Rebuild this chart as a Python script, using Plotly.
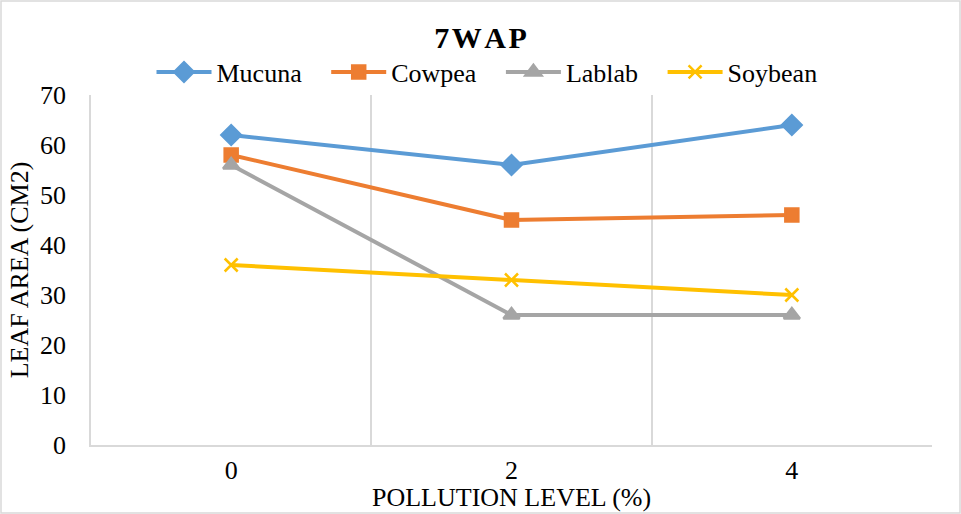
import plotly.graph_objects as go

categories = ["0", "2", "4"]
mucuna = [62, 56, 64]
cowpea = [58, 45, 46]
lablab = [56, 26, 26]
soybean = [36, 33, 30]
y_ticks = [0, 10, 20, 30, 40, 50, 60, 70]

xpos = list(range(len(categories)))
FONT = "Liberation Serif"
PAD = "\u00a0\u00a0\u00a0"

series = [
    ("Mucuna", mucuna, "#5B9BD5", "diamond", 15),
    ("Cowpea", cowpea, "#ED7D31", "square", 13),
    ("Lablab", lablab, "#A5A5A5", "triangle-up", 14),
    ("Soybean", soybean, "#FFC000", "x-thin-open", 13),
]

fig = go.Figure()
for name, vals, color, sym, size in series:
    fig.add_trace(go.Scatter(
        x=xpos, y=vals, name=name + PAD, mode="lines+markers",
        line=dict(color=color, width=4),
        marker=dict(symbol=sym, size=size, color=color,
                    line=dict(color=color, width=2.5)),
    ))

W, H = 961, 514
ml, mr, mt, mb = 91, 29, 95, 69
pw, ph = W - ml - mr, H - mt - mb

fig.update_layout(
    width=W, height=H,
    margin=dict(l=ml, r=mr, t=mt, b=mb, autoexpand=False),
    paper_bgcolor="white", plot_bgcolor="white",
    font=dict(family=FONT, size=26, color="black"),
    title=dict(text="<b>7\u200aW\u200aA\u200aP</b>", x=0.5, xanchor="center",
               y=1 - 37 / H, yanchor="middle", yref="container",
               font=dict(family=FONT, size=30, color="black")),
    legend=dict(orientation="h", x=0.5 - 14.5 / pw, xanchor="center", y=1 - 72 / H,
                yanchor="middle", yref="container",
                font=dict(family=FONT, size=26, color="black"),
                itemwidth=55, tracegroupgap=0, bgcolor="rgba(0,0,0,0)"),
    xaxis=dict(
        range=[-0.5, len(categories) - 0.5], automargin=False,
        tickmode="array", tickvals=xpos, ticktext=categories,
        tickfont=dict(family=FONT, size=26),
        showgrid=False, zeroline=False,
        showline=True, linecolor="#D9D9D9", linewidth=1.5,
        ticks="", ticklabelstandoff=1,
        minor=dict(tickmode="array",
                   tickvals=[i + 0.5 for i in xpos],
                   showgrid=True, gridcolor="#D9D9D9", gridwidth=1.5, ticks=""),
        fixedrange=True,
    ),
    yaxis=dict(
        range=[0, 70], tickmode="array", tickvals=y_ticks, automargin=False,
        tickfont=dict(family=FONT, size=26),
        showgrid=False, zeroline=False,
        showline=True, linecolor="#D9D9D9", linewidth=1.5,
        ticks="", ticklabelstandoff=18,
        title=dict(text="LEAF AREA (CM2)", standoff=4,
                   font=dict(family=FONT, size=26)),
        fixedrange=True,
    ),
    annotations=[dict(text="POLLUTION LEVEL (%)", xref="paper", yref="paper",
                      x=0.5, xanchor="center", y=-(497 - (H - mb)) / ph,
                      yanchor="middle", showarrow=False,
                      font=dict(family=FONT, size=26, color="black"))],
    shapes=[dict(type="rect", xref="paper", yref="paper",
                 x0=-(ml - 1) / pw, x1=1 + (mr - 1) / pw,
                 y0=-(mb - 1) / ph, y1=1 + (mt - 1) / ph,
                 line=dict(color="#D9D9D9", width=1.5), layer="below")],
)

fig.write_html("out.html", config={"displayModeBar": False},
               post_script="document.body.style.margin='0';")
